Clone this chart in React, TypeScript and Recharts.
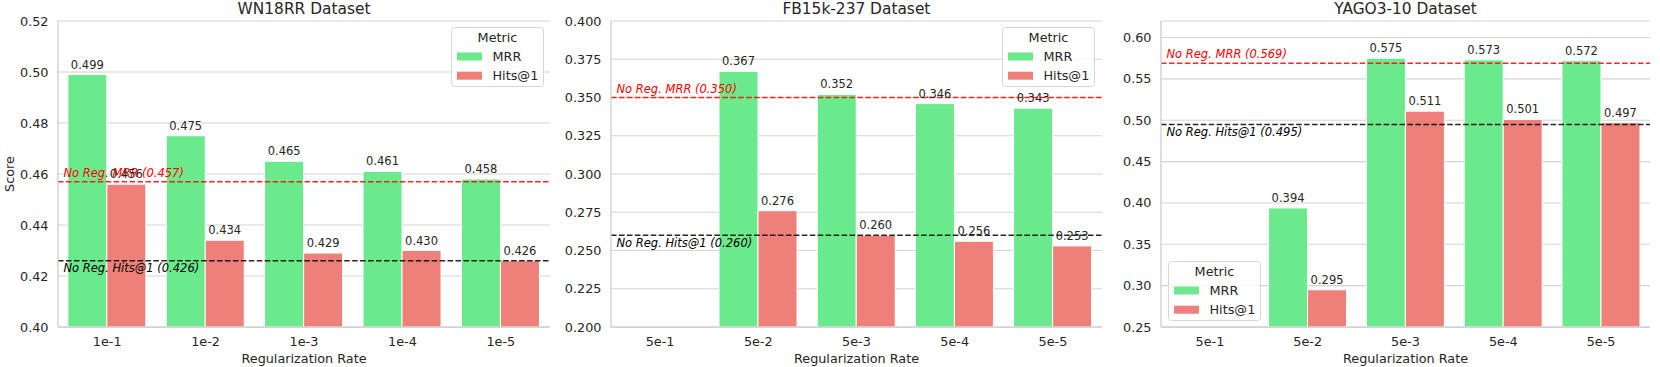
import React from "react";
import {
  BarChart,
  Bar,
  XAxis,
  YAxis,
  CartesianGrid,
  ReferenceLine,
  LabelList,
  Legend,
} from "recharts";

const FONT = "DejaVu Sans, sans-serif";
const TEXT = "#262626";
const SPINE = "#cccccc";
const MRR_COLOR = "#6aea8c";
const HITS_COLOR = "#ef8079";

// WN18RR
const wnRates = ["1e-1", "1e-2", "1e-3", "1e-4", "1e-5"];
const wnMrr = [0.499, 0.475, 0.465, 0.461, 0.458];
const wnHits = [0.456, 0.434, 0.429, 0.43, 0.426];
const wnBaseMrr = 0.457;
const wnBaseHits = 0.426;
const wnTicks = [0.4, 0.42, 0.44, 0.46, 0.48, 0.5, 0.52];

// FB15k-237
const fbRates = ["5e-1", "5e-2", "5e-3", "5e-4", "5e-5"];
const fbMrr = [null, 0.367, 0.352, 0.346, 0.343];
const fbHits = [null, 0.276, 0.26, 0.256, 0.253];
const fbBaseMrr = 0.35;
const fbBaseHits = 0.26;
const fbTicks = [0.2, 0.225, 0.25, 0.275, 0.3, 0.325, 0.35, 0.375, 0.4];

// YAGO3-10
const yagoRates = ["5e-1", "5e-2", "5e-3", "5e-4", "5e-5"];
const yagoMrr = [null, 0.394, 0.575, 0.573, 0.572];
const yagoHits = [null, 0.295, 0.511, 0.501, 0.497];
const yagoBaseMrr = 0.569;
const yagoBaseHits = 0.495;
const yagoTicks = [0.25, 0.3, 0.35, 0.4, 0.45, 0.5, 0.55, 0.6];

const legendItems = [
  { name: "MRR", color: MRR_COLOR },
  { name: "Hits@1", color: HITS_COLOR },
];

function toRows(rates: string[], mrr: (number | null)[], hits: (number | null)[]) {
  return rates.map((rate, i) => ({ rate, mrr: mrr[i], hits: hits[i] }));
}

function renderLegend() {
  return (
    <svg width={93} height={60} style={{ display: "block" }}>
      <rect x={0.5} y={0.5} width={92} height={59} rx={3} fill="rgba(255,255,255,0.8)" stroke="#d6d6d6" />
      <text x={46.5} y={15} textAnchor="middle" fontSize={12.8} fontFamily={FONT} fill={TEXT}>
        Metric
      </text>
      {legendItems.map((item, i) => (
        <g key={item.name}>
          <rect x={6} y={25.5 + i * 19.2} width={25} height={8} fill={item.color} />
          <text x={41.5} y={34 + i * 19.2} fontSize={12.8} fontFamily={FONT} fill={TEXT}>
            {item.name}
          </text>
        </g>
      ))}
    </svg>
  );
}

/* eslint-disable @typescript-eslint/no-explicit-any */
function refLabel(text: string, color: string, above: boolean) {
  return (props: any) => {
    const vb = props.viewBox;
    if (!vb) return null;
    return (
      <text
        x={vb.x + 5.5}
        y={above ? vb.y - 5 : vb.y + 11.5}
        fill={color}
        fontSize={11.5}
        fontStyle="italic"
        fontFamily={FONT}
      >
        {text}
      </text>
    );
  };
}
/* eslint-enable @typescript-eslint/no-explicit-any */

interface PanelProps {
  left: number;
  width: number;
  yWidth: number;
  right: number;
  rows: { rate: string; mrr: number | null; hits: number | null }[];
  domain: [number, number];
  ticks: number[];
  digits: number;
  baseMrr: number;
  baseHits: number;
  legendPos: { left: number; top: number };
}

function Panel({ left, width, yWidth, right, rows, domain, ticks, digits, baseMrr, baseHits, legendPos }: PanelProps) {
  const tickStyle = { fill: TEXT, fontSize: 12.8, fontFamily: FONT };
  const fmt = (v: any) => (v == null ? "" : Number(v).toFixed(3));
  return (
    <div style={{ position: "absolute", left, top: 0 }}>
      <BarChart
        width={width}
        height={367}
        data={rows}
        margin={{ top: 21, right, bottom: 0, left: 0 }}
        barCategoryGap="10%"
        barGap={0}
      >
        <CartesianGrid vertical={false} stroke="#d4d4d4" strokeWidth={1.1} />
        <XAxis
          dataKey="rate"
          height={40}
          tickSize={0}
          tickMargin={10}
          tickLine={false}
          axisLine={{ stroke: SPINE, strokeWidth: 1.25 }}
          tick={tickStyle}
          label={{
            value: "Regularization Rate",
            position: "insideBottom",
            offset: 4,
            fill: TEXT,
            fontSize: 12.8,
            fontFamily: FONT,
          }}
        />
        <XAxis xAxisId="top" dataKey="rate" orientation="top" height={0} tick={false} tickLine={false} axisLine={{ stroke: SPINE, strokeWidth: 1.25 }} />
        <YAxis
          width={yWidth}
          domain={domain}
          ticks={ticks}
          allowDataOverflow
          tickSize={0}
          tickMargin={9.5}
          tickLine={false}
          axisLine={{ stroke: SPINE, strokeWidth: 1.25 }}
          tick={tickStyle}
          tickFormatter={(v: number) => v.toFixed(digits)}
        />
        <YAxis yAxisId="right" orientation="right" width={0} domain={domain} tick={false} tickLine={false} axisLine={{ stroke: SPINE, strokeWidth: 1.25 }} />
        <Bar dataKey="mrr" name="MRR" fill={MRR_COLOR} stroke="#ffffff" strokeWidth={1} isAnimationActive={false}>
          <LabelList dataKey="mrr" position="top" offset={6} formatter={fmt} fill={TEXT} fontSize={11.5} fontFamily={FONT} />
        </Bar>
        <Bar dataKey="hits" name="Hits@1" fill={HITS_COLOR} stroke="#ffffff" strokeWidth={1} isAnimationActive={false}>
          <LabelList dataKey="hits" position="top" offset={6} formatter={fmt} fill={TEXT} fontSize={11.5} fontFamily={FONT} />
        </Bar>
        <ReferenceLine
          y={baseMrr}
          stroke="red"
          strokeOpacity={0.85}
          strokeWidth={1.5}
          strokeDasharray="5.55 2.4"
          label={refLabel(`No Reg. MRR (${baseMrr.toFixed(3)})`, "red", true)}
        />
        <ReferenceLine
          y={baseHits}
          stroke="black"
          strokeOpacity={0.85}
          strokeWidth={1.5}
          strokeDasharray="5.55 2.4"
          label={refLabel(`No Reg. Hits@1 (${baseHits.toFixed(3)})`, "black", false)}
        />
        <Legend
          layout="vertical"
          align="center"
          verticalAlign="middle"
          content={renderLegend}
          wrapperStyle={{ left: legendPos.left, top: legendPos.top, width: 93, height: 60 }}
        />
      </BarChart>
    </div>
  );
}

const titles = [
  { text: "WN18RR Dataset", x: 304 },
  { text: "FB15k-237 Dataset", x: 856.4 },
  { text: "YAGO3-10 Dataset", x: 1405.5 },
];

export default function App() {
  return (
    <div style={{ position: "absolute", left: 0, top: 0, width: 1660, height: 367, background: "#fff", overflow: "hidden" }}>
      <Panel
        left={0}
        width={560}
        yWidth={58}
        right={10}
        rows={toRows(wnRates, wnMrr, wnHits)}
        domain={[0.4, 0.52]}
        ticks={wnTicks}
        digits={2}
        baseMrr={wnBaseMrr}
        baseHits={wnBaseHits}
        legendPos={{ left: 451, top: 27 }}
      />
      <Panel
        left={560}
        width={550}
        yWidth={51}
        right={8}
        rows={toRows(fbRates, fbMrr, fbHits)}
        domain={[0.2, 0.4]}
        ticks={fbTicks}
        digits={3}
        baseMrr={fbBaseMrr}
        baseHits={fbBaseHits}
        legendPos={{ left: 442, top: 27 }}
      />
      <Panel
        left={1110}
        width={550}
        yWidth={51}
        right={10}
        rows={toRows(yagoRates, yagoMrr, yagoHits)}
        domain={[0.25, 0.62]}
        ticks={yagoTicks}
        digits={2}
        baseMrr={yagoBaseMrr}
        baseHits={yagoBaseHits}
        legendPos={{ left: 58, top: 261 }}
      />
      <svg width={1660} height={367} style={{ position: "absolute", left: 0, top: 0, pointerEvents: "none" }}>
        {titles.map((t) => (
          <text key={t.text} x={t.x} y={13.5} textAnchor="middle" fontSize={15.4} fontFamily={FONT} fill={TEXT}>
            {t.text}
          </text>
        ))}
        <text x={13.5} y={174} transform="rotate(-90, 13.5, 174)" textAnchor="middle" fontSize={12.8} fontFamily={FONT} fill={TEXT}>
          Score
        </text>
      </svg>
    </div>
  );
}
